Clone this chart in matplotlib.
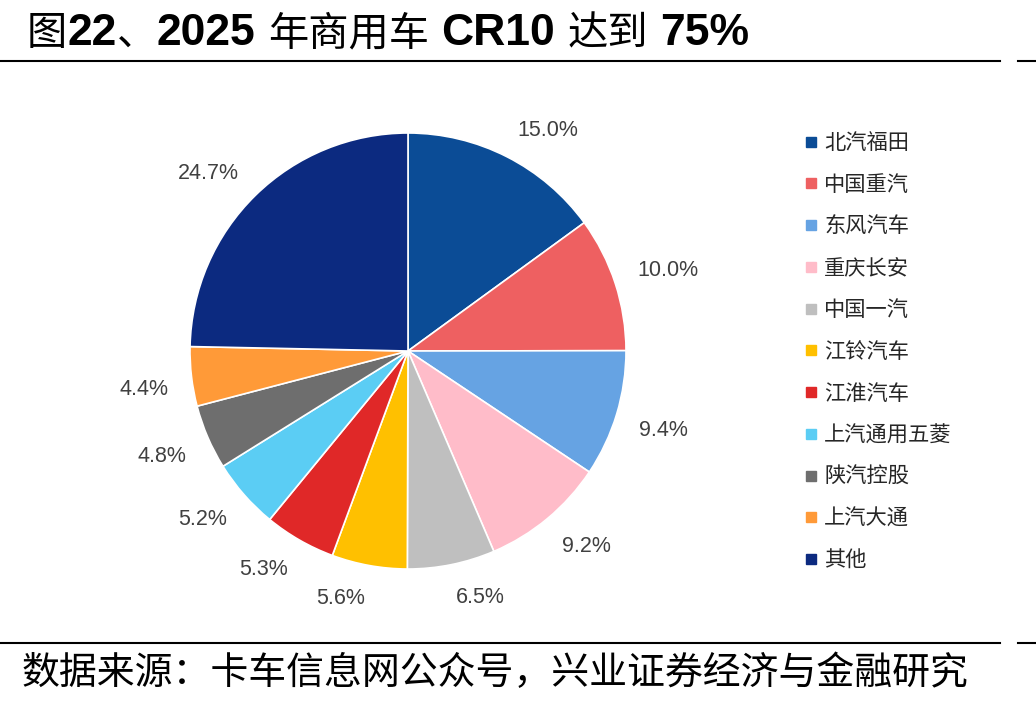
import re
import numpy as np
import matplotlib
matplotlib.use("Agg")
import matplotlib.pyplot as plt
from matplotlib.lines import Line2D

# ---- data ----
categories = ["北汽福田", "中国重汽", "东风汽车", "重庆长安", "中国一汽", "江铃汽车",
              "江淮汽车", "上汽通用五菱", "陕汽控股", "上汽大通", "其他"]
shares = [15.0, 10.0, 9.4, 9.2, 6.5, 5.6, 5.3, 5.2, 4.8, 4.4, 24.7]
colors = ["#0B4C96", "#EE6061", "#66A3E3", "#FFBCC9", "#BFBFBF", "#FFC000",
          "#E02828", "#5BCDF4", "#6E6E6E", "#FF9A38", "#0C2A80"]
title = "图22、2025 年商用车 CR10 达到 75%"
source = "数据来源：卡车信息网公众号，兴业证券经济与金融研究"

W, H = 1036, 705
DPI = 100
fig = plt.figure(figsize=(W / DPI, H / DPI), dpi=DPI)
fig.patch.set_facecolor("white")

# pie axes: centre (408,351), radius 218 px
cx, cy, r = 408, 351, 218
ax = fig.add_axes([(cx - r) / W, (H - cy - r) / H, 2 * r / W, 2 * r / H])
label_iter = iter([f"{v:.1f}%" for v in shares])
LABEL_PT = 15.5
wedges, texts, autotexts = ax.pie(
    shares, colors=colors, startangle=90, counterclock=False,
    autopct=lambda p: next(label_iter), pctdistance=1.2,
    wedgeprops=dict(edgecolor="white", linewidth=1.2),
    textprops=dict(family=["Liberation Sans", "DejaVu Sans"], fontsize=LABEL_PT, color="#404040"),
)
ax.set_xlim(-1, 1)
ax.set_ylim(-1, 1)
ax.set_aspect("equal")
ax.axis("off")

# Excel-like outside labels: nearest corner of the label box sits on a ring
R0 = 241 / r
cap_h = 0.716 * LABEL_PT * DPI / 72 / r
for w, t in zip(wedges, autotexts):
    th = np.deg2rad((w.theta1 + w.theta2) / 2)
    ax_x, ax_y = R0 * np.cos(th), R0 * np.sin(th)
    t.set_ha("left" if np.cos(th) >= 0 else "right")
    t.set_va("baseline")
    t.set_position((ax_x, ax_y if np.sin(th) >= 0 else ax_y - cap_h))
    t.set_clip_on(False)

# legend
handles = [Line2D([], [], marker="s", linestyle="none", markersize=7,
                  markerfacecolor=c, markeredgecolor=c) for c in colors]
leg = fig.legend(handles, categories, loc="upper left",
                 bbox_to_anchor=(805 / W, 1 - 132 / H), frameon=False,
                 prop=dict(family=["Noto Sans CJK SC", "DejaVu Sans"], size=15.3),
                 handlelength=0.6, handletextpad=0.3, labelspacing=0.93,
                 borderpad=0, borderaxespad=0)
for t in leg.get_texts():
    t.set_color("#262626")

# title: Latin runs in Arial-like bold, CJK runs in Noto Sans CJK
fig.canvas.draw()
renderer = fig.canvas.get_renderer()
LAT_PT, CJK_PT = 32, 29
x = 27.0
base_y = 1 - 45 / H
for run in re.findall(r"[\u2e80-\uffff]+|[^\u2e80-\uffff ]+| +", title):
    if run.startswith(" "):
        x += len(run) * 0.278 * LAT_PT * DPI / 72
        continue
    if ord(run[0]) >= 0x2E80:
        t = fig.text(x / W, base_y, run, ha="left", va="baseline",
                     family=["Noto Sans CJK SC", "DejaVu Sans"], fontweight="medium",
                     fontsize=CJK_PT, color="black")
    else:
        t = fig.text(x / W, base_y, run, ha="left", va="baseline",
                     family=["Liberation Sans", "DejaVu Sans"], fontweight="bold",
                     fontsize=LAT_PT, color="black")
    x += t.get_window_extent(renderer).width

# footer
fig.text(22 / W, 1 - 674 / H, source, ha="left", va="center",
         family=["Noto Sans CJK SC", "DejaVu Sans"], fontweight="light",
         fontsize=27.3, color="black")

# horizontal rules
for yy in (61, 643):
    fig.add_artist(Line2D([0, 1000 / W], [1 - yy / H] * 2, color="black", lw=1.5))
    fig.add_artist(Line2D([1018 / W, 1], [1 - yy / H] * 2, color="black", lw=1.5))

fig.savefig("out.png", dpi=DPI)
